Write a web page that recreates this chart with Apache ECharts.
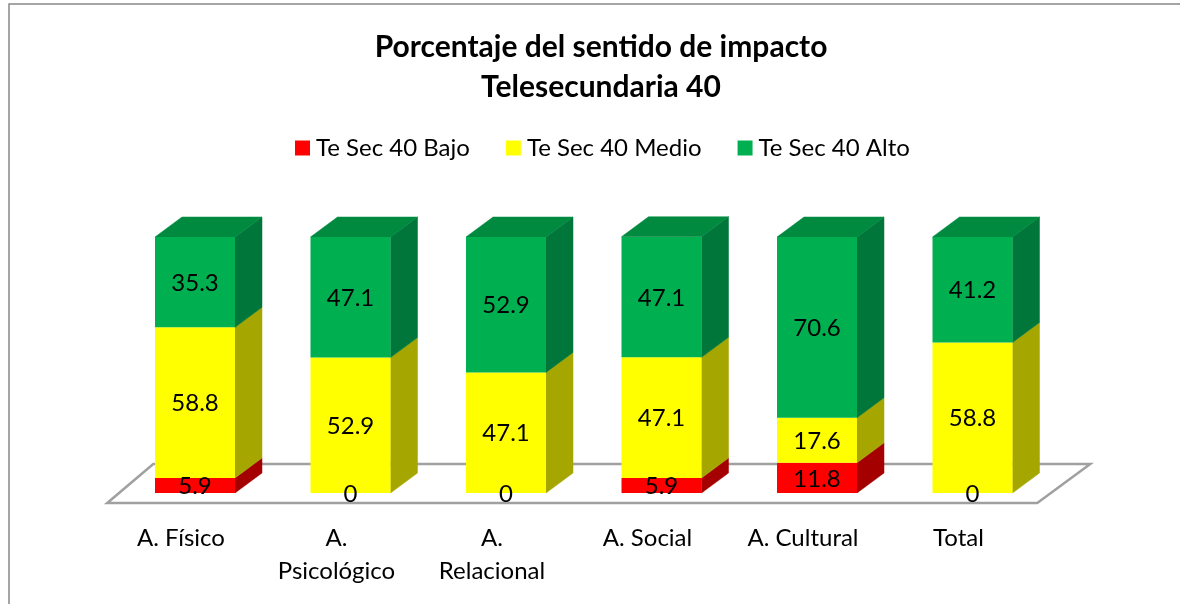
<!DOCTYPE html>
<html>
<head>
<meta charset="utf-8">
<style>html,body{margin:0;padding:0;background:#fff;}#c{width:1180px;height:604px;}</style>
<script src="https://cdn.jsdelivr.net/npm/echarts@6/dist/echarts.min.js"></script>
</head>
<body>
<div id="c"></div>
<script>
var categories = ['A. Físico', 'A. Psicológico', 'A. Relacional', 'A. Social', 'A. Cultural', 'Total'];
var tickLabels = ['A. Físico', 'A.\nPsicológico', 'A.\nRelacional', 'A. Social', 'A. Cultural', 'Total'];
var bajo = [5.9, 0, 0, 5.9, 11.8, 0];
var medio = [58.8, 52.9, 47.1, 47.1, 17.6, 58.8];
var alto = [35.3, 47.1, 52.9, 47.1, 70.6, 41.2];
var seriesNames = ['Te Sec 40 Bajo', 'Te Sec 40 Medio', 'Te Sec 40 Alto'];

var FONT = 'Lato';
var frontColors = ['#FF0000', '#FFFF00', '#00B050'];
var sideColors = ['#A50000', '#A6A600', '#00763A'];
var topColor = '#008A40';
var DX = 27, DY = -20, BW = 80;

var chart = echarts.init(document.getElementById('c'));

function barSeries(name, data, idx) {
  return {
    name: name, type: 'bar', stack: 'total', data: data, barWidth: BW, z: 3,
    itemStyle: { color: frontColors[idx] },
    label: { show: true, position: 'inside', color: '#000', fontFamily: FONT, fontSize: 24, offset: [0, 1] }
  };
}

var option = {
  animation: false,
  backgroundColor: '#fff',
  graphic: [{
    type: 'rect', shape: { x: 9, y: 4, width: 1300, height: 800 },
    style: { fill: 'none', stroke: '#888', lineWidth: 1.5 }, z: -10
  }],
  title: {
    text: 'Porcentaje del sentido de impacto\nTelesecundaria 40',
    left: 596, textAlign: 'center', top: 22,
    textStyle: { fontFamily: FONT, fontWeight: 'bold', fontSize: 30, lineHeight: 40, color: '#000' }
  },
  legend: {
    data: seriesNames, left: 290, top: 131, icon: 'rect', itemWidth: 15, itemHeight: 15, itemGap: 36,
    textStyle: { fontFamily: FONT, fontSize: 24, color: '#000', padding: [0, 0, 0, 1] }
  },
  grid: { left: 117.25, right: 129.75, top: 237, bottom: 111 },
  xAxis: {
    type: 'category', data: categories,
    axisLine: { show: false }, axisTick: { show: false },
    axisLabel: {
      margin: 29, fontFamily: FONT, fontSize: 24, lineHeight: 33, color: '#000',
      padding: [0, 28, 0, 0],
      formatter: function (v, i) { return tickLabels[i]; }
    }
  },
  yAxis: { type: 'value', min: 0, max: 100, show: false, splitLine: { show: false } },
  series: [
    {
      type: 'custom', name: 'floor', silent: true, z: 1, data: [0],
      renderItem: function (params, api) {
        var cs = params.coordSys;
        var yb = cs.y + cs.height;
        var pts = [
          [cs.x - 10, yb + 10],
          [cs.x + 36, yb - 29],
          [cs.x + cs.width + 40, yb - 29],
          [cs.x + cs.width - 13, yb + 10]
        ];
        return { type: 'polygon', shape: { points: pts }, style: { fill: '#fff', stroke: '#A0A0A0', lineWidth: 2.5 } };
      }
    },
    barSeries(seriesNames[0], bajo, 0),
    barSeries(seriesNames[1], medio, 1),
    barSeries(seriesNames[2], alto, 2),
    {
      type: 'custom', name: '3d', silent: true, z: 2,
      data: categories.map(function (c, i) { return i; }),
      renderItem: function (params, api) {
        var i = api.value(0);
        var vals = [bajo[i], medio[i], alto[i]];
        var children = [];
        var cum = 0;
        var cx = api.coord([i, 0])[0];
        var L = cx - BW / 2, R = cx + BW / 2;
        for (var k = 0; k < 3; k++) {
          var v = vals[k];
          if (v <= 0) continue;
          var y0 = api.coord([i, cum])[1];
          var y1 = api.coord([i, cum + v])[1];
          children.push({
            type: 'polygon',
            shape: { points: [[R, y0], [R + DX, y0 + DY], [R + DX, y1 + DY], [R, y1]] },
            style: { fill: sideColors[k], stroke: sideColors[k], lineWidth: 0.5 }
          });
          cum += v;
        }
        var yt = api.coord([i, cum])[1];
        children.push({
          type: 'polygon',
          shape: { points: [[L, yt], [L + DX, yt + DY], [R + DX, yt + DY], [R, yt]] },
          style: { fill: topColor, stroke: topColor, lineWidth: 0.5 }
        });
        return { type: 'group', children: children };
      }
    }
  ]
};
chart.setOption(option);
</script>
</body>
</html>
